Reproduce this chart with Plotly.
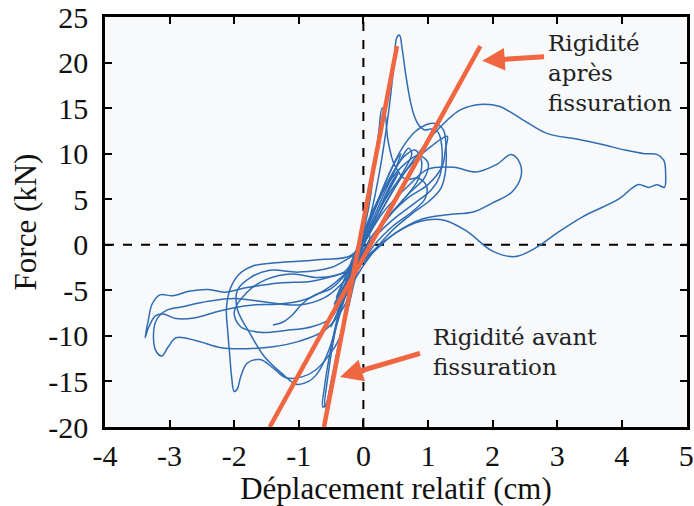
import plotly.graph_objects as go

# Cyclic load test: relative displacement (cm) vs force (kN)
x_ticks = [-4, -3, -2, -1, 0, 1, 2, 3, 4, 5]
y_ticks = [-20, -15, -10, -5, 0, 5, 10, 15, 20, 25]

# Hysteresis cycles (displacement, force)
cyc1_x = [-0.05, 0.15, 0.35, 0.5, 0.58, 0.5, 0.32, 0.1, -0.12, -0.3, -0.42, -0.36, -0.2, -0.05]
cyc1_y = [0.0, 3.5, 7.0, 9.2, 10.0, 8.4, 5.6, 2.0, -1.8, -5.0, -7.2, -6.4, -3.4, 0.0]

cyc2_x = [0.0, 0.2, 0.42, 0.62, 0.8, 0.9, 0.85, 0.65, 0.4, 0.15, -0.1, -0.35, -0.55, -0.5, -0.3, 0.0]
cyc2_y = [0.5, 4.2, 7.4, 9.6, 10.4, 9.2, 7.2, 5.2, 3.2, 0.8, -2.2, -5.6, -8.6, -8.0, -4.8, 0.5]

spike_x = [-0.1, 0.1, 0.25, 0.38, 0.47, 0.52, 0.56, 0.6, 0.66, 0.72, 0.78, 0.85, 0.95, 1.05, 1.15,
           1.2, 1.22, 1.18, 1.05, 0.8, 0.5, 0.2, -0.05, -0.25, -0.4, -0.52, -0.6, -0.63, -0.58,
           -0.5, -0.4, -0.28, -0.15, -0.1]
spike_y = [-1.0, 3.0, 8.0, 14.0, 19.5, 22.8, 23.0, 21.5, 18.5, 16.0, 14.3, 13.2, 12.6, 12.7, 12.4,
           11.5, 9.5, 7.5, 6.0, 4.6, 3.0, 1.0, -1.5, -4.5, -8.0, -12.0, -15.5, -17.8, -17.5,
           -15.0, -11.5, -7.5, -3.5, -1.0]

cyc3_x = [-0.1, 0.15, 0.4, 0.6, 0.8, 0.98, 1.12, 1.24, 1.28, 1.27, 1.2, 1.02, 0.75, 0.45, 0.15,
          -0.15, -0.38, -0.5, -0.35, -0.1]
cyc3_y = [-1.0, 3.5, 7.8, 10.6, 12.4, 13.2, 13.3, 12.6, 10.5, 8.0, 6.2, 4.8, 3.4, 1.6, -0.8,
          -4.0, -7.2, -9.0, -6.5, -1.0]

cyc4_x = [0.0, 0.3, 0.6, 0.85, 1.05, 1.2, 1.3, 1.27, 1.22, 1.0, 0.7, 0.4, 0.1, -0.2, -0.45, -0.3, 0.0]
cyc4_y = [0.0, 4.5, 7.6, 9.6, 10.8, 11.6, 11.9, 10.5, 8.6, 6.6, 5.2, 3.2, 0.6, -3.2, -6.5, -4.5, 0.0]

cyc5_x = [-0.05, 0.08, 0.17, 0.24, 0.29, 0.33, 0.38, 0.48, 0.65, 0.85, 0.98, 0.95, 0.75, 0.45,
          0.15, -0.15, -0.35, -0.25, -0.05]
cyc5_y = [0.0, 4.0, 8.5, 12.5, 15.0, 14.6, 11.5, 8.8, 7.2, 7.3, 6.4, 5.0, 3.6, 2.0,
          -0.2, -3.6, -6.2, -4.2, 0.0]

cyc6_x = [0.0, 0.3, 0.7, 1.0, 1.4, 1.75, 2.06, 2.29, 2.42, 2.44, 2.3, 2.0, 1.7, 1.3, 0.9, 0.5,
          0.1, -0.2, -0.42, -0.25, 0.0]
cyc6_y = [0.0, 3.5, 6.5, 8.3, 8.5, 8.0, 8.8, 9.9, 9.0, 7.5, 5.8, 4.6, 3.6, 3.3, 2.8, 1.3,
          -1.0, -3.5, -5.8, -3.2, 0.0]

cyc7_x = [0.0, 0.3, 0.6, 0.9, 1.2, 1.5, 1.8, 2.1, 2.45, 2.85, 3.3, 3.7, 4.05, 4.35, 4.55, 4.65,
          4.68, 4.66, 4.55, 4.42, 4.25, 3.95, 3.4, 3.0, 2.7, 2.35, 2.0, 1.6, 1.25, 0.9, 0.5, 0.2,
          -0.1, -0.4, -0.8, -1.3, -1.8, -2.15, -2.4, -2.7, -2.95, -3.15, -3.27, -3.33, -3.38,
          -3.32, -3.22, -3.1, -2.9, -2.6, -2.3, -2.0, -1.7, -1.3, -0.9, -0.5, -0.2, 0.0]
cyc7_y = [0.0, 4.0, 7.5, 10.5, 13.0, 14.8, 15.4, 15.2, 13.8, 12.2, 11.6, 11.0, 10.4, 10.0, 9.9, 9.3,
          7.5, 6.3, 6.6, 6.3, 6.6, 5.0, 3.1, 1.3, -0.2, -1.3, -0.7, 1.5, 2.7, 2.6, 1.3, -0.5,
          -2.5, -3.3, -4.0, -4.2, -4.7, -5.2, -4.9, -5.1, -5.6, -5.5, -6.5, -8.3, -10.2,
          -9.0, -7.8, -7.6, -8.1, -8.0, -7.4, -6.9, -6.6, -6.5, -6.0, -4.5, -2.5, 0.0]

cyc8_x = [0.1, -0.1, -0.3, -0.6, -1.0, -1.5, -2.0, -2.4, -2.8, -3.05, -3.2, -3.25, -3.2, -3.12,
          -3.02, -2.9, -2.6, -2.2, -1.8, -1.4, -1.0, -0.6, -0.3, -0.1, 0.1]
cyc8_y = [0.5, -2.0, -4.0, -5.8, -6.6, -6.3, -5.9, -6.2, -6.8, -7.2, -8.2, -10.2, -11.8, -12.2,
          -11.2, -10.2, -10.5, -11.3, -11.4, -11.2, -10.6, -9.4, -6.8, -3.0, 0.5]

cyc9_x = [0.1, -0.2, -0.6, -1.0, -1.4, -1.7, -1.92, -2.06, -2.12, -2.1, -2.07, -2.04, -2.0,
          -1.95, -1.9, -1.8, -1.6, -1.4, -1.2, -0.95, -0.75, -0.55, -0.38, -0.23, -0.1, 0.1]
cyc9_y = [1.0, -1.2, -1.6, -1.8, -2.0, -2.3, -3.2, -4.8, -7.0, -9.5, -12.0, -14.5, -16.1,
          -15.8, -14.5, -13.0, -12.6, -13.5, -14.6, -14.5, -13.8, -12.3, -10.4, -6.8, -3.0, 1.0]

cyc10_x = [-0.05, -0.5, -1.0, -1.45, -1.75, -1.95, -1.95, -1.75, -1.54, -1.25, -1.04, -0.85,
           -0.7, -0.53, -0.4, -0.25, -0.05]
cyc10_y = [-1.0, -2.5, -3.0, -2.8, -3.6, -5.0, -7.1, -9.8, -12.2, -14.2, -15.3, -15.0,
           -14.0, -11.5, -8.5, -5.0, -1.0]

cyc11_x = [-1.4, -1.25, -1.1, -0.95, -0.75, -0.5, -0.25, 0.0, 0.25, 0.45, 0.55, 0.4, 0.15, -0.1,
           -0.3, -0.45, -0.55, -0.6, -0.55, -0.45, -0.3, -0.15]
cyc11_y = [-8.8, -8.5, -7.7, -6.5, -5.5, -4.8, -3.0, 0.0, 4.0, 7.0, 8.0, 6.0, 2.5, -1.5,
           -5.5, -10.0, -14.5, -17.8, -17.2, -13.5, -8.5, -4.0]

cyc12_x = [0.0, -0.3, -0.7, -1.1, -1.5, -1.8, -2.0, -1.9, -1.6, -1.2, -0.8, -0.5, -0.25, 0.0]
cyc12_y = [0.0, -3.0, -3.6, -3.2, -3.8, -5.2, -7.4, -9.0, -9.6, -9.4, -9.0, -8.0, -4.5, 0.0]

cyc13_x = [-0.2, 0.0, 0.2, 0.4, 0.55, 0.7, 0.75, 0.6, 0.35, 0.1, -0.15, -0.3, -0.38, -0.3, -0.2]
cyc13_y = [-2.5, 1.0, 4.5, 7.2, 9.0, 10.6, 10.0, 7.8, 4.6, 1.4, -2.0, -4.6, -6.0, -5.0, -2.5]

cyc14_x = [-0.25, -0.05, 0.15, 0.35, 0.6, 0.85, 1.0, 0.95, 0.7, 0.45, 0.2, -0.05, -0.25, -0.45, -0.25]
cyc14_y = [-3.0, 0.5, 3.8, 6.4, 8.6, 9.8, 9.0, 7.4, 5.6, 3.6, 1.2, -1.8, -4.2, -6.8, -3.0]

cycles = [(cyc1_x, cyc1_y), (cyc2_x, cyc2_y), (spike_x, spike_y), (cyc3_x, cyc3_y),
          (cyc4_x, cyc4_y), (cyc5_x, cyc5_y), (cyc6_x, cyc6_y), (cyc7_x, cyc7_y),
          (cyc8_x, cyc8_y), (cyc9_x, cyc9_y), (cyc10_x, cyc10_y), (cyc11_x, cyc11_y),
          (cyc12_x, cyc12_y), (cyc13_x, cyc13_y), (cyc14_x, cyc14_y)]

# Stiffness lines (end points)
k_before_x = [-0.61, 0.52]
k_before_y = [-20.0, 21.8]
k_after_x = [-1.45, 1.81]
k_after_y = [-20.0, 21.8]

BLUE = "#2e6cb4"
RED = "#ef6640"
SERIF = "Liberation Serif"
LABEL_FONT = "DejaVu Serif"

fig = go.Figure()

for cx, cy in cycles:
    fig.add_trace(go.Scatter(x=cx, y=cy, mode="lines",
                             line=dict(color=BLUE, width=1.5, shape="spline", smoothing=1.0),
                             showlegend=False, hoverinfo="skip"))

for lx, ly in [(k_before_x, k_before_y), (k_after_x, k_after_y)]:
    fig.add_trace(go.Scatter(x=lx, y=ly, mode="lines", line=dict(color=RED, width=4.5),
                             showlegend=False, hoverinfo="skip"))

# Dashed reference axes through the origin
fig.add_shape(type="line", x0=0, x1=0, y0=-20, y1=25, xref="x", yref="y",
              line=dict(color="black", width=2, dash="dash"), layer="below")
fig.add_shape(type="line", x0=-4, x1=5.02, y0=0, y1=0, xref="x", yref="y",
              line=dict(color="black", width=2, dash="dash"), layer="below")

# Arrows pointing to the stiffness lines
fig.add_annotation(x=1.84, y=20.2, ax=2.82, ay=20.66, xref="x", yref="y", axref="x", ayref="y",
                   text="", showarrow=True, arrowhead=2, arrowsize=0.9, arrowwidth=5,
                   arrowcolor=RED)
fig.add_annotation(x=-0.36, y=-14.5, ax=0.9, ay=-11.87, xref="x", yref="y", axref="x", ayref="y",
                   text="", showarrow=True, arrowhead=2, arrowsize=0.9, arrowwidth=5,
                   arrowcolor=RED)

fig.add_annotation(x=2.82, y=18.9, xref="x", yref="y", text="Rigidité<br>après<br>fissuration",
                   showarrow=False, xanchor="left", yanchor="middle", align="left",
                   font=dict(family=LABEL_FONT, size=23, color="#222222"))
fig.add_annotation(x=1.05, y=-11.76, xref="x", yref="y", text="Rigidité avant<br>fissuration",
                   showarrow=False, xanchor="left", yanchor="middle", align="left",
                   font=dict(family=LABEL_FONT, size=23, color="#222222"))

axis_common = dict(showline=True, linecolor="black", linewidth=2.5, mirror="ticks",
                   ticks="inside", ticklen=7, tickwidth=2, tickcolor="black",
                   showgrid=False, zeroline=False, ticklabeloverflow="allow",
                   tickfont=dict(family=SERIF, size=30, color="#111111"))

fig.update_xaxes(range=[-4, 5.01], tickvals=x_ticks, ticktext=[str(v) for v in x_ticks],
                 title=dict(text="Déplacement relatif (cm)", standoff=10,
                            font=dict(family=SERIF, size=31, color="#111111")),
                 ticklabelstandoff=0, **axis_common)
fig.update_yaxes(range=[-20, 25], tickvals=y_ticks, ticktext=[str(v) for v in y_ticks],
                 title=dict(text="Force (kN)", standoff=3,
                            font=dict(family=SERIF, size=31, color="#111111")),
                 ticklabelstandoff=8, **axis_common)

fig.update_layout(width=694, height=506, margin=dict(l=105, r=0, t=16, b=79),
                  paper_bgcolor="white", plot_bgcolor="#f7f9fb", showlegend=False)

fig.write_html("out.html")
